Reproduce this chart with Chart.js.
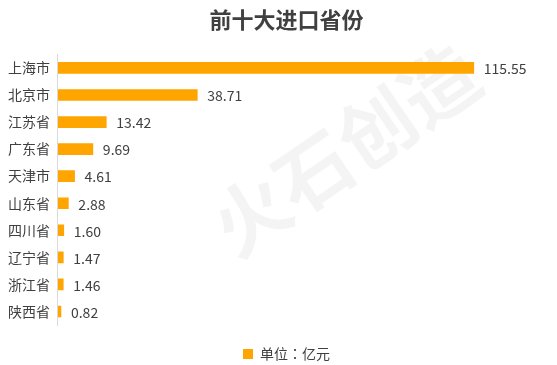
<!DOCTYPE html>
<html>
<head>
<meta charset="utf-8">
<script src="https://cdn.jsdelivr.net/npm/chart.js@4/dist/chart.umd.min.js"></script>
<style>
  html, body { margin: 0; padding: 0; background: #fff; }
  #wrap { width: 557px; height: 365px; }
</style>
</head>
<body>
<div id="wrap"><canvas id="importChart"></canvas></div>
<script>
// data
const provinces = ['上海市', '北京市', '江苏省', '广东省', '天津市', '山东省', '四川省', '辽宁省', '浙江省', '陕西省'];
const importValues = [115.55, 38.71, 13.42, 9.69, 4.61, 2.88, 1.60, 1.47, 1.46, 0.82];
const seriesLabel = '单位：亿元';

const fontFamily = '"Noto Sans CJK SC", "Microsoft YaHei", sans-serif';

// draws the value next to each bar
const valueLabels = {
    id: 'valueLabels',
    afterDatasetsDraw(chart) {
        const ctx = chart.ctx;
        const meta = chart.getDatasetMeta(0);
        ctx.save();
        ctx.font = '14px ' + fontFamily;
        ctx.fillStyle = '#404040';
        ctx.textAlign = 'left';
        ctx.textBaseline = 'middle';
        meta.data.forEach(function (bar, i) {
            ctx.fillText(importValues[i].toFixed(2), bar.x + 10, bar.y + 1);
        });
        ctx.restore();
    }
};

// faint watermark behind the bars
const watermark = {
    id: 'watermark',
    beforeDatasetsDraw(chart) {
        const ctx = chart.ctx;
        ctx.save();
        ctx.translate(345, 150);
        ctx.rotate(-0.6);
        ctx.font = 'bold 76px ' + fontFamily;
        ctx.fillStyle = 'rgba(0,0,0,0.045)';
        ctx.textAlign = 'center';
        ctx.textBaseline = 'middle';
        ctx.fillText('火石创造', 0, 0);
        ctx.restore();
    }
};

document.addEventListener('DOMContentLoaded', function () {
    const ctx = document.getElementById('importChart').getContext('2d');
    new Chart(ctx, {
        type: 'bar',
        data: {
            labels: provinces,
            datasets: [{
                label: seriesLabel,
                data: importValues,
                backgroundColor: '#FFA500',
                borderWidth: 0,
                barThickness: 11
            }]
        },
        options: {
            indexAxis: 'y',
            responsive: true,
            maintainAspectRatio: false,
            animation: false,
            layout: { padding: { left: 0, right: 42, top: 0, bottom: -6 } },
            scales: {
                x: {
                    display: true,
                    min: 0,
                    max: 127,
                    grid: { display: false },
                    border: { display: false },
                    ticks: { display: false },
                    afterFit(scale) { scale.height = 18; }
                },
                y: {
                    grid: { display: false, drawTicks: false },
                    border: { display: true, color: '#d9d9d9', width: 1 },
                    ticks: {
                        color: '#404040',
                        padding: 8,
                        font: { size: 14, family: fontFamily }
                    }
                }
            },
            plugins: {
                title: {
                    display: true,
                    fullSize: false,
                    text: '前十大进口省份',
                    color: '#404040',
                    font: { size: 22, weight: 'bold', family: fontFamily },
                    padding: { top: 6, bottom: 22 }
                },
                legend: {
                    display: true,
                    fullSize: false,
                    position: 'bottom',
                    labels: {
                        color: '#404040',
                        boxWidth: 10,
                        boxHeight: 10,
                        padding: 4,
                        // TC face centres the full-width colon like the original
                        font: { size: 14, family: '"Noto Sans CJK TC", ' + fontFamily }
                    }
                },
                tooltip: { enabled: false }
            }
        },
        plugins: [valueLabels, watermark]
    });
});
</script>
</body>
</html>
